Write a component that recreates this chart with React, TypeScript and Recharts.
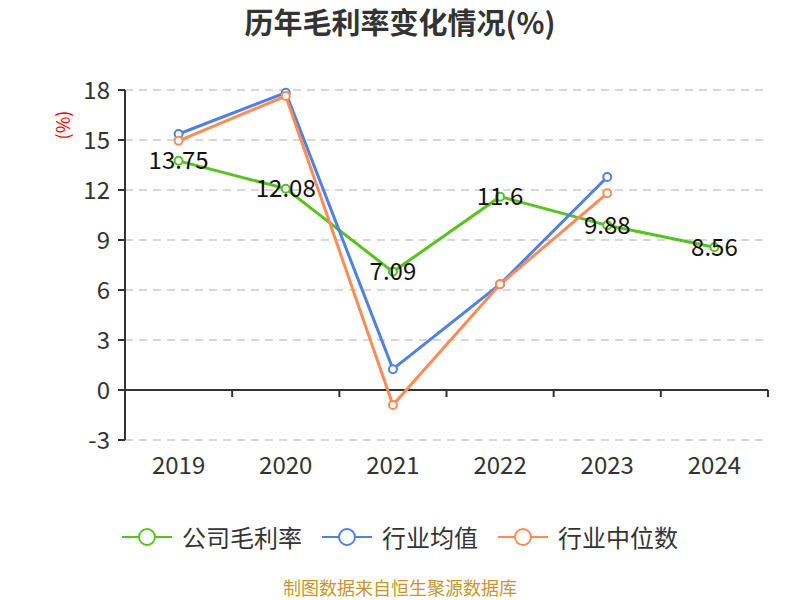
import React from 'react';
import {
  LineChart,
  Line,
  XAxis,
  YAxis,
  CartesianGrid,
  ReferenceLine,
  LabelList,
} from 'recharts';

// 年份与三条序列（%）
const years = ['2019', '2020', '2021', '2022', '2023', '2024'];
const companyMargin = [13.75, 12.08, 7.09, 11.6, 9.88, 8.56];
const industryMean: (number | null)[] = [15.36, 17.84, 1.25, 6.35, 12.78, null];
const industryMedian: (number | null)[] = [14.95, 17.64, -0.9, 6.34, 11.8, null];
const yTicks = [-3, 0, 3, 6, 9, 12, 15, 18];

const seriesNames = ['公司毛利率', '行业均值', '行业中位数'];
const COLORS = ['#58c21f', '#4e80e6', '#ff8b57'];

const data = years.map((year, i) => ({
  year,
  company: companyMargin[i],
  mean: industryMean[i],
  median: industryMedian[i],
}));

const FONT = '"Noto Sans CJK SC", "Noto Sans", sans-serif';
const TOP = 90;
const PLOT_H = 350;
const LEFT = 125;
const PLOT_W = 643;
const BAND = PLOT_W / years.length;
const ZERO_Y = TOP + (PLOT_H * 18) / 21;

function XTick(props: any) {
  const { x, payload } = props;
  return (
    <g>
      <line x1={x + BAND / 2} y1={ZERO_Y} x2={x + BAND / 2} y2={ZERO_Y + 7} stroke="#333" strokeWidth={2} />
      <text x={x} y={TOP + PLOT_H + 34} textAnchor="middle" fill="#333" fontSize={24} fontFamily={FONT}>
        {payload.value}
      </text>
    </g>
  );
}

function LegendIcon({ color }: { color: string }) {
  return (
    <svg width={50} height={20}>
      <line x1={0} y1={10} x2={50} y2={10} stroke={color} strokeWidth={2} />
      <circle cx={25} cy={10} r={8} fill="#fff" stroke={color} strokeWidth={2} />
    </svg>
  );
}

export default function App() {
  return (
    <div style={{ position: 'absolute', left: 0, top: 0, width: 800, height: 600, background: '#fff', fontFamily: FONT }}>
      <div style={{ position: 'absolute', top: 0, width: 800, textAlign: 'center', fontSize: 29, fontWeight: 'bold', color: '#333' }}>
        历年毛利率变化情况(%)
      </div>
      <div
        style={{
          position: 'absolute',
          left: 62,
          top: 125,
          transform: 'translate(-50%, -50%) rotate(-90deg)',
          color: '#f00',
          fontSize: 18,
          whiteSpace: 'nowrap',
        }}
      >
        (%)
      </div>
      <LineChart width={800} height={600} data={data} margin={{ top: TOP, right: 800 - LEFT - PLOT_W, left: 0, bottom: 120 }}>
        <CartesianGrid vertical={false} stroke="#ccc" strokeDasharray="8 6" strokeWidth={1.5} />
        <XAxis dataKey="year" scale="band" axisLine={false} tickLine={false} tick={<XTick />} height={40} interval={0} />
        <YAxis
          width={LEFT}
          domain={[-3, 18]}
          ticks={yTicks}
          interval={0}
          axisLine={{ stroke: '#333', strokeWidth: 2 }}
          tickLine={{ stroke: '#333', strokeWidth: 2 }}
          tickSize={7}
          tickMargin={8}
          tick={{ fill: '#333', fontSize: 24, fontFamily: FONT }}
        />
        <ReferenceLine y={0} stroke="#333" strokeWidth={2} />
        <Line
          dataKey="company"
          name={seriesNames[0]}
          stroke={COLORS[0]}
          strokeWidth={3}
          dot={{ r: 4, fill: '#fff', stroke: COLORS[0], strokeWidth: 2 }}
          isAnimationActive={false}
        >
          <LabelList dataKey="company" position="center" fill="#111" fontSize={24} fontFamily={FONT} />
        </Line>
        <Line
          dataKey="mean"
          name={seriesNames[1]}
          stroke={COLORS[1]}
          strokeWidth={3}
          dot={{ r: 4, fill: '#fff', stroke: COLORS[1], strokeWidth: 2 }}
          isAnimationActive={false}
        />
        <Line
          dataKey="median"
          name={seriesNames[2]}
          stroke={COLORS[2]}
          strokeWidth={3}
          dot={{ r: 4, fill: '#fff', stroke: COLORS[2], strokeWidth: 2 }}
          isAnimationActive={false}
        />
      </LineChart>
      <div
        style={{
          position: 'absolute',
          top: 519,
          width: 800,
          display: 'flex',
          justifyContent: 'center',
          alignItems: 'center',
          gap: 20,
          fontSize: 24,
          color: '#333',
        }}
      >
        {seriesNames.map((name, i) => (
          <div key={name} style={{ display: 'flex', alignItems: 'center', gap: 10 }}>
            <LegendIcon color={COLORS[i]} />
            <span>{name}</span>
          </div>
        ))}
      </div>
      <div style={{ position: 'absolute', top: 574, width: 800, textAlign: 'center', fontSize: 18, color: '#c8962a' }}>
        制图数据来自恒生聚源数据库
      </div>
    </div>
  );
}
